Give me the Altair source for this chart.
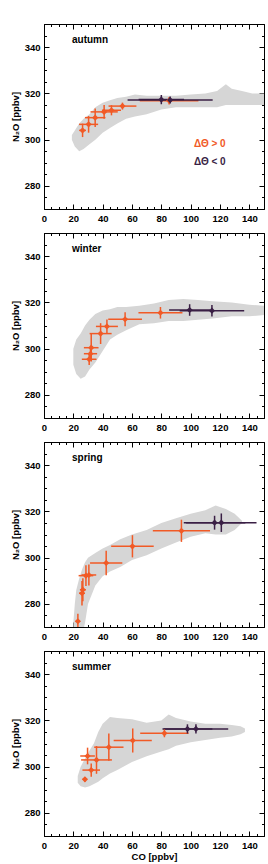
import altair as alt
import pandas as pd

FONT = "Liberation Sans"
ORANGE = "#f15a26"
PURPLE = "#3a1f45"
GREY = "#d6d6d6"

SEASONS = ["autumn", "winter", "spring", "summer"]

# ---- grey cloud envelope: CO [ppbv] with lower / upper N2O [ppbv] ----
autumn_cloud_co = [19, 21, 24, 27, 31, 35, 40, 45, 50, 56, 62, 70, 80, 90, 100, 110, 118, 124, 128, 135, 142, 150]
autumn_cloud_lo = [300, 297, 295, 296, 298, 300, 303, 305, 307, 309, 310, 311, 313, 314, 314, 314, 314, 315, 315, 315, 315, 315]
autumn_cloud_hi = [302, 304, 307, 309, 311, 314, 316, 317, 318, 318.5, 319.5, 319, 319, 319, 319.5, 320, 321, 324, 322, 321, 320, 320]

winter_cloud_co = [20, 22, 25, 28, 31, 35, 40, 45, 50, 56, 65, 75, 85, 95, 105, 115, 128, 140, 150]
winter_cloud_lo = [293, 289, 287, 288, 291, 294, 299, 304, 306, 308, 310.5, 311, 312, 312, 312.5, 313, 314, 314, 314.5]
winter_cloud_hi = [300, 304, 306.5, 310, 312.5, 315, 316.5, 317, 318, 318, 318.5, 319.5, 321, 321.5, 321, 320.5, 320, 319, 318.5]

spring_cloud_co = [20, 21, 22, 24, 26, 28, 30, 35, 40, 45, 52, 60, 70, 80, 90, 100, 110, 117, 124, 130, 135]
spring_cloud_lo = [262, 262, 262, 263, 266, 272, 280, 288, 292, 294, 296, 299, 301, 304, 306.5, 309, 310.5, 310, 310, 312, 315]
spring_cloud_hi = [272, 280, 286, 291, 295, 298, 300, 302, 304, 305.5, 308, 310, 312, 315, 317, 319, 320.5, 322.5, 321, 319, 316]

summer_cloud_co = [23, 25, 28, 31, 34, 37, 40, 45, 50, 60, 70, 80, 85, 90, 100, 110, 120, 128, 134, 137]
summer_cloud_lo = [293, 291.5, 291, 291.5, 292.5, 293.5, 295, 297, 298.5, 302, 304.5, 306.5, 307.5, 309, 310.5, 311.5, 312.5, 313, 314, 315]
summer_cloud_hi = [296, 300, 303.5, 307, 310, 315, 318.5, 321.5, 321, 320.5, 319, 320, 322.5, 321, 319.5, 318.5, 318.5, 318, 317.5, 316.5]

# ---- binned means with errors, dTheta > 0 (orange) ----
autumn_pos_co = [26.3, 30.4, 34.9, 41.0, 46.0, 53.5, 85.3]
autumn_pos_n2o = [304.0, 306.6, 309.5, 312.0, 312.7, 314.5, 316.8]
autumn_pos_xerr = [2.3, 6.5, 7.0, 9.3, 6.5, 9.5, 20.0]
autumn_pos_yerr = [2.9, 3.6, 4.0, 3.0, 2.2, 1.5, 1.6]

winter_pos_co = [30.8, 31.7, 32.2, 38.6, 42.9, 55.3, 79.4]
winter_pos_n2o = [295.4, 297.8, 300.4, 306.5, 309.6, 312.7, 315.5]
winter_pos_xerr = [5.0, 4.5, 5.0, 7.5, 7.5, 11.5, 15.0]
winter_pos_yerr = [2.5, 2.0, 6.0, 4.5, 3.0, 3.0, 2.5]

spring_pos_co = [23.1, 25.9, 26.5, 28.6, 30.6, 42.4, 60.3, 93.7]
spring_pos_n2o = [272.5, 284.6, 286.1, 292.2, 292.5, 297.7, 304.9, 311.6]
spring_pos_xerr = [1.5, 2.0, 2.0, 5.0, 5.0, 11.0, 14.5, 19.5]
spring_pos_yerr = [3.2, 5.3, 5.0, 4.5, 4.5, 5.3, 4.8, 4.8]

summer_pos_co = [27.9, 29.7, 32.2, 35.8, 44.2, 60.5, 82.1]
summer_pos_n2o = [294.5, 304.6, 298.5, 302.9, 308.4, 311.3, 314.4]
summer_pos_xerr = [1.5, 5.0, 6.0, 10.5, 10.0, 13.0, 16.5]
summer_pos_yerr = [1.0, 3.6, 2.9, 6.0, 5.9, 5.2, 1.7]

# ---- dTheta < 0 (dark purple) ----
autumn_neg_co = [80.0, 86.0]
autumn_neg_n2o = [317.3, 317.1]
autumn_neg_xerr = [15.5, 29.0]
autumn_neg_yerr = [2.0, 1.5]

winter_neg_co = [99.3, 114.5]
winter_neg_n2o = [316.7, 316.4]
winter_neg_xerr = [14.0, 22.0]
winter_neg_yerr = [2.5, 2.5]

spring_neg_co = [116.3, 120.9]
spring_neg_n2o = [315.1, 315.1]
spring_neg_xerr = [21.0, 24.0]
spring_neg_yerr = [3.0, 4.0]

summer_neg_co = [97.8, 103.6]
summer_neg_n2o = [316.3, 316.3]
summer_neg_xerr = [17.0, 22.0]
summer_neg_yerr = [2.0, 2.0]

X_MAJOR = [0, 20, 40, 60, 80, 100, 120, 140]
X_MINOR = list(range(0, 151, 5))
Y_MAJOR = [280, 300, 320, 340]
Y_MINOR = list(range(270, 351, 5))
LEGEND_POS = "\u0394\u0398 > 0"
LEGEND_NEG = "\u0394\u0398 < 0"

clouds = {
    "autumn": (autumn_cloud_co, autumn_cloud_lo, autumn_cloud_hi),
    "winter": (winter_cloud_co, winter_cloud_lo, winter_cloud_hi),
    "spring": (spring_cloud_co, spring_cloud_lo, spring_cloud_hi),
    "summer": (summer_cloud_co, summer_cloud_lo, summer_cloud_hi),
}
pos = {
    "autumn": (autumn_pos_co, autumn_pos_n2o, autumn_pos_xerr, autumn_pos_yerr),
    "winter": (winter_pos_co, winter_pos_n2o, winter_pos_xerr, winter_pos_yerr),
    "spring": (spring_pos_co, spring_pos_n2o, spring_pos_xerr, spring_pos_yerr),
    "summer": (summer_pos_co, summer_pos_n2o, summer_pos_xerr, summer_pos_yerr),
}
neg = {
    "autumn": (autumn_neg_co, autumn_neg_n2o, autumn_neg_xerr, autumn_neg_yerr),
    "winter": (winter_neg_co, winter_neg_n2o, winter_neg_xerr, winter_neg_yerr),
    "spring": (spring_neg_co, spring_neg_n2o, spring_neg_xerr, spring_neg_yerr),
    "summer": (summer_neg_co, summer_neg_n2o, summer_neg_xerr, summer_neg_yerr),
}

SX = alt.Scale(domain=[0, 150], nice=False, zero=False)
SY = alt.Scale(domain=[270, 350], nice=False, zero=False)


def ax(orient, values, size, labels, title=None, tpad=4):
    kw = dict(orient=orient, values=values, tickSize=size, offset=-size,
              domain=False, grid=False, labels=labels, ticks=True,
              tickColor="black", tickWidth=1)
    if labels:
        kw.update(labelFont=FONT, labelFontSize=9.5, labelFontWeight="bold",
                  labelColor="black", labelPadding=4, labelFlush=False,
                  labelOverlap=False)
    if title:
        kw.update(title=title, titleFont=FONT, titleFontSize=9.5,
                  titleFontWeight="bold", titleColor="black", titlePadding=tpad)
    else:
        kw["title"] = None
    return alt.Axis(**kw)


def points_df(season):
    rows = []
    for grp, src in (("pos", pos), ("neg", neg)):
        co, n, xe, ye = src[season]
        for c, v, dx, dy in zip(co, n, xe, ye):
            rows.append(dict(grp=grp, co=c, n=v, xlo=c - dx, xhi=c + dx,
                             ylo=v - dy, yhi=v + dy))
    return pd.DataFrame(rows)


def tick_layer(pdf, xo, vx, yo, vy, size):
    return alt.Chart(pdf).mark_point(opacity=0).encode(
        x=alt.X("co:Q", scale=SX, axis=ax(xo, vx, size, False)),
        y=alt.Y("n:Q", scale=SY, axis=ax(yo, vy, size, False)),
    )


def panel(season, last):
    co, lo, hi = clouds[season]
    cdf = pd.DataFrame({"co": co, "lo": lo, "hi": hi})
    pdf = points_df(season)

    cloud = alt.Chart(cdf).mark_area(color=GREY, opacity=1, clip=True).encode(
        x=alt.X("co:Q", scale=SX, axis=ax("bottom", X_MAJOR, 5, True, "CO [ppbv]" if last else None, 2)),
        y=alt.Y("lo:Q", scale=SY, axis=ax("left", Y_MAJOR, 5, True, "N\u2082O [ppbv]", 4)),
        y2="hi:Q",
    )

    layers = [
        cloud,
        tick_layer(pdf, "bottom", X_MINOR, "left", Y_MINOR, 2.5),
        tick_layer(pdf, "top", X_MAJOR, "right", Y_MAJOR, 5),
        tick_layer(pdf, "top", X_MINOR, "right", Y_MINOR, 2.5),
    ]

    color = alt.Color("grp:N", scale=alt.Scale(domain=["pos", "neg"], range=[ORANGE, PURPLE]), legend=None)

    hbar = alt.Chart(pdf).mark_rule(strokeWidth=1.5, clip=True).encode(
        x=alt.X("xlo:Q", scale=SX, axis=None), x2="xhi:Q",
        y=alt.Y("n:Q", scale=SY, axis=None), color=color)
    vbar = alt.Chart(pdf).mark_rule(strokeWidth=1.5, clip=True).encode(
        x=alt.X("co:Q", scale=SX, axis=None),
        y=alt.Y("ylo:Q", scale=SY, axis=None), y2="yhi:Q", color=color)
    pts = alt.Chart(pdf).mark_point(shape="diamond", filled=True, size=38, opacity=1, clip=True).encode(
        x=alt.X("co:Q", scale=SX, axis=None),
        y=alt.Y("n:Q", scale=SY, axis=None), color=color)
    layers += [hbar, vbar, pts]

    label = alt.Chart(pd.DataFrame({"t": [season]})).mark_text(
        font=FONT, fontSize=10, fontWeight="bold", color="black",
        align="left", baseline="middle").encode(
        x=alt.value(28), y=alt.value(16), text="t:N")
    layers.append(label)

    if season == "autumn":
        for txt, col, yy in ((LEGEND_POS, ORANGE, 120), (LEGEND_NEG, PURPLE, 138)):
            layers.append(alt.Chart(pd.DataFrame({"t": [txt]})).mark_text(
                font=FONT, fontSize=10, fontWeight="bold", align="left",
                baseline="middle", color=col).encode(
                x=alt.value(150), y=alt.value(yy), text="t:N"))

    return alt.layer(*layers).resolve_axis(x="independent", y="independent").properties(
        width=220, height=185)


charts = [panel(s, i == len(SEASONS) - 1) for i, s in enumerate(SEASONS)]
chart = alt.vconcat(*charts, spacing=24, bounds="flush").configure_view(
    stroke="black", strokeWidth=1).properties(
    padding={"left": 9, "top": 23, "right": 2, "bottom": 2},
    background="white")

chart.save("out.html", embed_options={"renderer": "svg", "actions": False})
